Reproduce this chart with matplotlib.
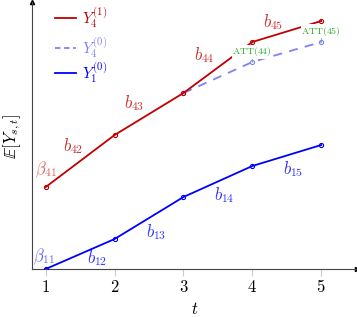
import matplotlib
matplotlib.use("Agg")
import matplotlib.pyplot as plt
import numpy as np

plt.rcParams['mathtext.fontset'] = 'cm'
plt.rcParams['font.family'] = 'DejaVu Serif'

# data
t = [1, 2, 3, 4, 5]
y4_treated = [4.1, 6.7, 8.8, 11.35, 12.4]
t_cf = [3, 4, 5]
y4_untreated = [8.8, 10.35, 11.35]
y1_untreated = [0.0, 1.5, 3.6, 5.15, 6.2]

red = '#c00000'
blue = '#0000ff'
lblue = '#8080ff'
green = '#22aa22'

fig = plt.figure(figsize=(3.57, 3.17), dpi=100)
ax = fig.add_axes([32/357, 48/317, 325/357, 267/317])
xmin, xmax = 0.8, 5.52
ymin, ymax = 0.0, 13.35
ax.set_xlim(xmin, xmax)
ax.set_ylim(ymin, ymax)

ax.plot(t, y4_treated, color=red, lw=1.3, marker='o', ms=3, mfc='none', mew=0.8, zorder=3)
ax.plot(t_cf, y4_untreated, color=lblue, lw=1.3, ls=(0, (5, 4)), marker='o', ms=3, mfc='none', mew=0.8, zorder=2)
ax.plot(t, y1_untreated, color=blue, lw=1.3, marker='o', ms=3, mfc='none', mew=0.8, zorder=3)

# ATT gaps
for i, tt in enumerate(t_cf[1:]):
    ax.plot([tt, tt], [y4_untreated[i+1], y4_treated[tt-1]], color=green, lw=0.8, ls=':', zorder=1)
ax.text(4, 10.85, r'$\mathrm{ATT(44)}$', color=green, fontsize=7, ha='center', va='center', zorder=4,
        bbox=dict(fc='white', ec='none', pad=0.1))
ax.text(5, 11.9, r'$\mathrm{ATT(45)}$', color=green, fontsize=7, ha='center', va='center', zorder=4,
        bbox=dict(fc='white', ec='none', pad=0.1))

# segment labels
lab_red = '#cc3333'
lab_blue = '#3333ff'
ax.text(1.0, 4.95, r'$\beta_{41}$', color='#dd6666', fontsize=12, ha='center', va='center')
ax.text(1.39, 6.15, r'$b_{42}$', color=lab_red, fontsize=12, ha='center', va='center')
ax.text(2.29, 8.3, r'$b_{43}$', color=lab_red, fontsize=12, ha='center', va='center')
ax.text(3.3, 10.7, r'$b_{44}$', color=lab_red, fontsize=12, ha='center', va='center')
ax.text(4.3, 12.35, r'$b_{45}$', color=lab_red, fontsize=12, ha='center', va='center')
ax.text(0.97, 0.6, r'$\beta_{11}$', color='#6666ff', fontsize=12, ha='center', va='center')
ax.text(1.74, 0.55, r'$b_{12}$', color=lab_blue, fontsize=12, ha='center', va='center')
ax.text(2.6, 1.85, r'$b_{13}$', color=lab_blue, fontsize=12, ha='center', va='center')
ax.text(3.59, 3.7, r'$b_{14}$', color=lab_blue, fontsize=12, ha='center', va='center')
ax.text(4.59, 5.0, r'$b_{15}$', color=lab_blue, fontsize=12, ha='center', va='center')

# legend drawn by hand
leg_y = [12.55, 11.05, 9.8]
leg_names = [r'$Y_4^{(1)}$', r'$Y_4^{(0)}$', r'$Y_1^{(0)}$']
leg_cols = [red, lblue, blue]
leg_ls = ['-', (0, (3, 2)), '-']
for yy, name, c, ls in zip(leg_y, leg_names, leg_cols, leg_ls):
    ax.plot([1.13, 1.44], [yy, yy], color=c, lw=1.3, ls=ls)
    ax.text(1.52, yy, name, color=c, fontsize=11, ha='left', va='center')

# axes with arrows
for s in ['top', 'right']:
    ax.spines[s].set_visible(False)
ax.spines['left'].set_color('#444444')
ax.spines['bottom'].set_color('#444444')
ax.plot(1, 0, '>k', ms=3, transform=ax.transAxes, clip_on=False)
ax.plot(0, 1, '^k', ms=3, transform=ax.transAxes, clip_on=False)

ax.set_xticks(t)
ax.set_xticklabels(['$%d$' % v for v in t], fontsize=12)
ax.tick_params(axis='x', length=5, color='#cccccc', direction='out', pad=2)
ax.set_yticks([])
ax.set_xlabel('$t$', fontsize=12, labelpad=4)
fig.text(12/357, 1 - 136/317, r'$\mathbb{E}[Y_{s,t}]$', fontsize=12, rotation=90,
         ha='center', va='center')

fig.savefig('out.png', dpi=100)
